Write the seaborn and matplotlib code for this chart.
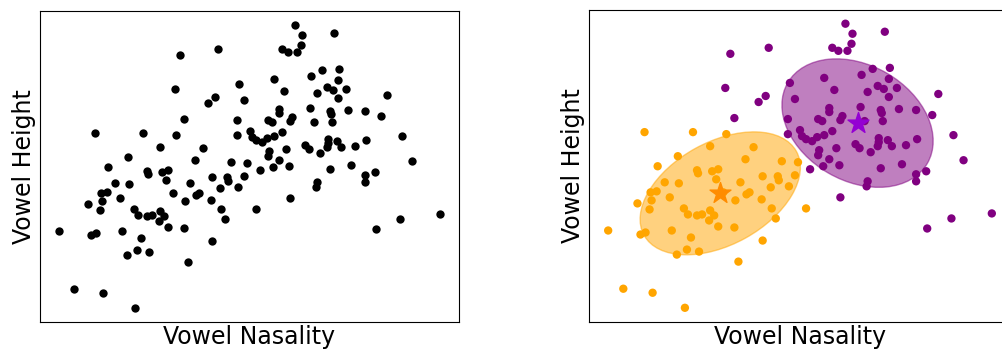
import numpy as np
import pandas as pd
import matplotlib
matplotlib.use("Agg")
import matplotlib.pyplot as plt
from matplotlib.patches import Ellipse
import seaborn as sns

# cluster 1 (purple): more nasal, higher vowels
purple_nasality = [141, 179, 200, 136, 176, 169, 205, 145, 198, 198,
                   255, 262, 294, 261, 242, 248, 257, 299, 282, 271,
                   234, 298, 287, 293, 306, 244, 277, 298, 347, 270,
                   239, 239, 290, 291, 308, 325, 341, 252, 250, 228,
                   232, 274, 292, 210, 242, 212, 216, 222, 227, 234,
                   362, 288, 297, 326, 265, 269, 301, 315, 287, 280,
                   246, 229, 228, 239, 249, 220, 233, 290, 311, 372,
                   325, 335, 325, 277, 276, 250, 360, 400, 336, 288]
purple_height = [267, 273, 238, 233, 225, 219, 222, 203, 202, 187,
                 297, 287, 289, 277, 273, 270, 270, 253, 252, 246,
                 243, 242, 235, 232, 233, 231, 229, 224, 227, 214,
                 213, 209, 211, 208, 212, 211, 206, 205, 201, 202,
                 200, 200, 200, 191, 190, 185, 182, 180, 184, 186,
                 186, 183, 181, 182, 177, 173, 175, 176, 175, 169,
                 173, 171, 166, 162, 156, 152, 155, 153, 157, 161,
                 147, 150, 140, 140, 135, 124, 103, 108, 93, 179]

# cluster 2 (orange): less nasal, lower vowels
orange_nasality = [56, 104, 137, 121, 164, 89, 156, 192, 208, 69,
                   205, 199, 216, 108, 109, 123, 129, 127, 76, 90,
                   62, 68, 63, 49, 61, 81, 134, 151, 146, 157,
                   160, 173, 188, 189, 181, 172, 182, 186, 95, 99,
                   108, 113, 121, 125, 120, 129, 145, 173, 20, 52,
                   57, 83, 102, 98, 110, 88, 149, 35, 64, 96]
orange_height = [189, 189, 187, 175, 174, 165, 162, 160, 159, 155,
                 146, 135, 113, 151, 148, 150, 152, 142, 139, 138,
                 129, 130, 121, 118, 112, 124, 129, 139, 121, 127,
                 129, 145, 145, 141, 134, 122, 113, 103, 113, 107,
                 106, 107, 111, 106, 101, 95, 94, 81, 91, 87,
                 89, 91, 84, 72, 70, 67, 60, 33, 29, 14]

# fitted cluster centres and covariances
orange_mean = [131, 128]
purple_mean = [267, 198]
orange_cov = [[6300, 2050], [2050, 3750]]
purple_cov = [[5610, -1340], [-1340, 4095]]

df = pd.DataFrame({
    'nasality': purple_nasality + orange_nasality,
    'height': purple_height + orange_height,
    'cluster': ['purple'] * len(purple_nasality) + ['orange'] * len(orange_nasality),
})


def draw_ellipse(ax, mean, cov, color):
    vals, vecs = np.linalg.eigh(np.array(cov, dtype=float))
    order = vals.argsort()[::-1]
    vals, vecs = vals[order], vecs[:, order]
    angle = np.degrees(np.arctan2(vecs[1, 0], vecs[0, 0]))
    w, h = 2 * np.sqrt(vals)
    ax.add_patch(Ellipse(mean, w, h, angle=angle, facecolor=color,
                         edgecolor=color, alpha=0.5, zorder=1))


sns.set_style('white')

fig = plt.figure(figsize=(10.02, 3.52), dpi=100)
ax1 = fig.add_axes([40 / 1002, 30 / 352, 419 / 1002, 311 / 352])
ax2 = fig.add_axes([589 / 1002, 30 / 352, 422 / 1002, 312.5 / 352])

sns.scatterplot(data=df, x='nasality', y='height', color='black', s=36,
                linewidth=0, ax=ax1, legend=False)

sns.scatterplot(data=df, x='nasality', y='height', hue='cluster',
                palette={'purple': 'purple', 'orange': 'orange'}, s=36,
                linewidth=0, ax=ax2, legend=False, zorder=2)
draw_ellipse(ax2, orange_mean, orange_cov, 'orange')
draw_ellipse(ax2, purple_mean, purple_cov, 'purple')
ax2.scatter(*orange_mean, marker='*', s=250, color='darkorange', zorder=3)
ax2.scatter(*purple_mean, marker='*', s=250, color='darkviolet', zorder=3)

for ax in (ax1, ax2):
    ax.set_xticks([])
    ax.set_yticks([])
    ax.set_xlabel('Vowel Nasality', fontsize=17, labelpad=2, color='black')
    ax.set_ylabel('Vowel Height', fontsize=17, labelpad=3, color='black')
    for sp in ax.spines.values():
        sp.set_color('black')

fig.savefig('out.png', dpi=100)
